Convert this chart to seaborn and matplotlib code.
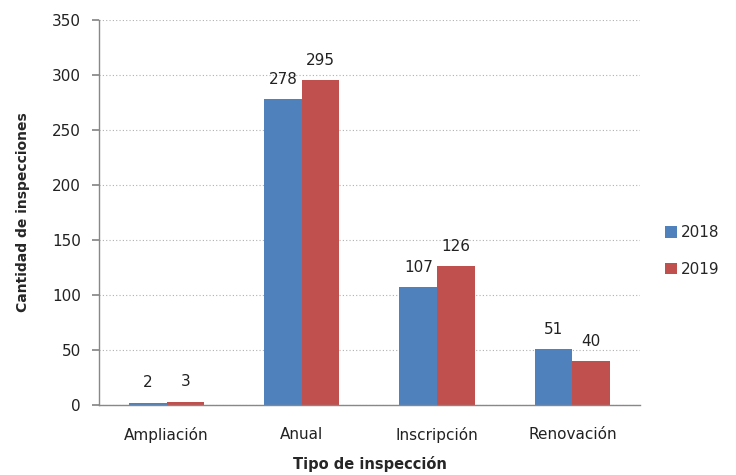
import matplotlib
matplotlib.use("Agg")
import matplotlib.pyplot as plt
import seaborn as sns
import pandas as pd

categories = ["Ampliación", "Anual", "Inscripción", "Renovación"]
years = ["2018", "2019"]
values_2018 = [2, 278, 107, 51]
values_2019 = [3, 295, 126, 40]
colors = ["#4F81BD", "#C0504D"]

df = pd.DataFrame({
    "Tipo": categories * 2,
    "Año": [years[0]] * len(categories) + [years[1]] * len(categories),
    "Cantidad": values_2018 + values_2019,
})

sns.set_theme(style="white")
plt.rcParams['font.family'] = ['DejaVu Sans']

fig = plt.figure(figsize=(7.36, 4.75), dpi=100)
ax = fig.add_axes([0.1345, 0.147, 0.735, 0.811])

sns.barplot(data=df, x="Tipo", y="Cantidad", hue="Año", palette=colors,
            order=categories, hue_order=years, width=0.556, saturation=1,
            linewidth=0, ax=ax, legend=True)

for cont in ax.containers:
    ax.bar_label(cont, padding=9, fontsize=11, color="#222222")

ax.set_ylim(0, 350)
ax.set_yticks(range(0, 351, 50))
ax.yaxis.grid(True, linestyle=(0, (1, 2)), color="#B0B0B0", linewidth=0.8)
ax.set_axisbelow(True)
for s in ["top", "right"]:
    ax.spines[s].set_visible(False)
for s in ["left", "bottom"]:
    ax.spines[s].set_color("#888888")
    ax.spines[s].set_linewidth(1.0)
ax.tick_params(axis="y", which="major", left=True, length=5, color="#888888",
               labelsize=11, labelcolor="#222222", pad=8)
ax.tick_params(axis="x", length=0, labelsize=11, labelcolor="#222222", pad=16)

ax.set_xlabel("Tipo de inspección", fontsize=10.5, fontweight="bold", labelpad=9)
ax.set_ylabel("Cantidad de inspecciones", fontsize=10, fontweight="bold", labelpad=16)

leg = ax.legend(loc="center left", bbox_to_anchor=(1.02, 0.40), frameon=False,
                fontsize=11, handlelength=0.8, handleheight=0.8, handletextpad=0.3,
                labelspacing=1.4)

fig.savefig("out.png", dpi=100)
